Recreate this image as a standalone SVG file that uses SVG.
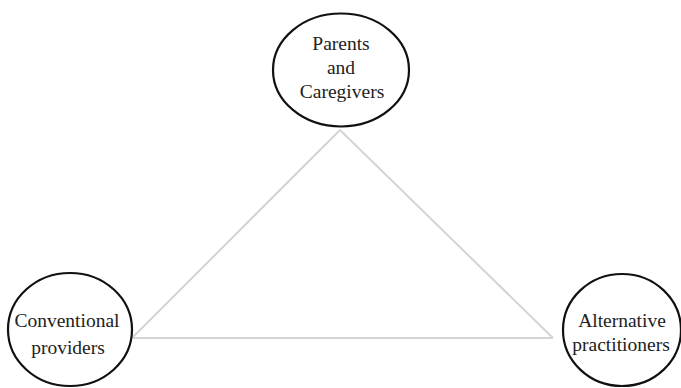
<svg xmlns="http://www.w3.org/2000/svg" width="681" height="388" viewBox="0 0 681 388">
<style>
.node ellipse{fill:#fff;stroke:#111;stroke-width:2.2}
.node text{font-family:"Liberation Serif","Times New Roman",serif;font-size:19.5px;fill:#222;text-anchor:middle}
.edge{stroke:#d4d4d4;stroke-width:2;fill:none}
</style>
<rect width="681" height="388" fill="#fff"/>
<g id="connectors">
<line class="edge" x1="340" y1="130" x2="132" y2="338"/>
<line class="edge" x1="340" y1="130" x2="553" y2="338"/>
<line class="edge" x1="132" y1="338" x2="553" y2="338"/>
</g>
<g id="parents" class="node">
<ellipse cx="341" cy="70" rx="68" ry="56.5"/>
<text x="341" y="50">Parents</text>
<text x="341" y="74">and</text>
<text x="342" y="98">Caregivers</text>
</g>
<g id="conventional" class="node">
<ellipse cx="70" cy="329.5" rx="62" ry="56.5"/>
<text x="67" y="327">Conventional</text>
<text x="68" y="354">providers</text>
</g>
<g id="alternative" class="node">
<ellipse cx="622" cy="330" rx="59" ry="56"/>
<text x="622" y="327">Alternative</text>
<text x="621" y="351">practitioners</text>
</g>
</svg>
